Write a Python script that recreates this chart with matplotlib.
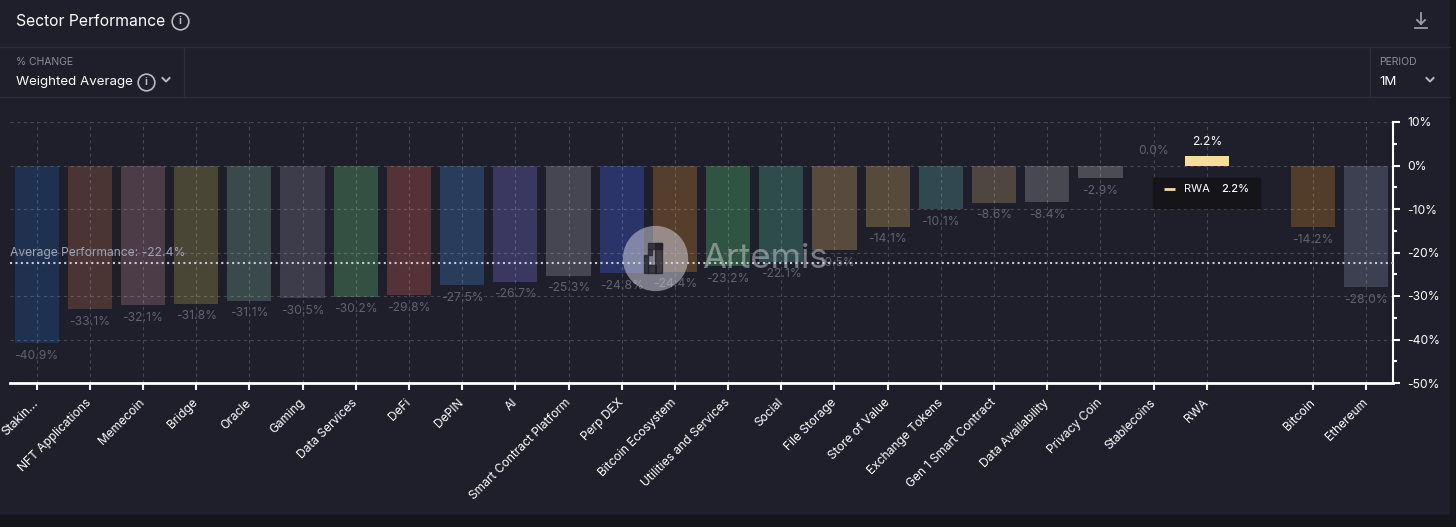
import matplotlib
matplotlib.use("Agg")
import matplotlib.pyplot as plt
from matplotlib.lines import Line2D
from matplotlib.patches import Rectangle
import numpy as np

# ---------------- data ----------------
sectors = ["Stakin...", "NFT Applications", "Memecoin", "Bridge", "Oracle", "Gaming",
           "Data Services", "DeFi", "DePIN", "AI", "Smart Contract Platform", "Perp DEX",
           "Bitcoin Ecosystem", "Utilities and Services", "Social", "File Storage",
           "Store of Value", "Exchange Tokens", "Gen 1 Smart Contract", "Data Availability",
           "Privacy Coin", "Stablecoins", "RWA"]
sector_values = [-40.9, -33.1, -32.1, -31.8, -31.1, -30.5, -30.2, -29.8, -27.5, -26.7,
                 -25.3, -24.8, -24.4, -23.2, -22.1, -19.5, -14.1, -10.1, -8.6, -8.4,
                 -2.9, 0.0, 2.2]
benchmarks = ["Bitcoin", "Ethereum"]
benchmark_values = [-14.2, -28.0]
average_performance = -22.4
highlighted = "RWA"
y_ticks = [10, 0, -10, -20, -30, -40, -50]

sector_colors = ["#1f3150", "#4a3434", "#4c3c48", "#4a4636", "#3a4a4a", "#3c3c4a",
                 "#345042", "#543238", "#2a3c5c", "#3a3860", "#464652", "#2a3468",
                 "#563e2c", "#305442", "#2e4c4c", "#584a3c", "#564a3a", "#324850",
                 "#504640", "#484850", "#4c4c54", "#4c4c54", "#f8dc9a"]
benchmark_colors = ["#523c2a", "#3c4050"]

# ---------------- layout ----------------
W, H = 1456, 527
BG = "#1e1f2a"
fig = plt.figure(figsize=(W / 100, H / 100), dpi=100, facecolor=BG)
plt.rcParams['font.family'] = ['Inter', 'DejaVu Sans']


def px(x, y):
    return x / W, 1 - y / H


# darker outer strips
fig.add_artist(Rectangle(px(0, 527), 1, 12 / H, transform=fig.transFigure, color="#15161c", zorder=0))
fig.add_artist(Rectangle(px(1450, 527), 6 / W, 1, transform=fig.transFigure, color="#15161c", zorder=0))

# header separators
sep = "#2c2e3a"
for yy in (47, 97):
    fig.add_artist(Line2D([0, 1450 / W], [1 - yy / H] * 2, transform=fig.transFigure, color=sep, lw=1))
for xx in (184, 1370):
    fig.add_artist(Line2D([xx / W] * 2, [1 - 47 / H, 1 - 97 / H], transform=fig.transFigure, color=sep, lw=1))

# header text
fig.text(*px(16, 21), "Sector Performance", color="white", fontsize=11.3, va="center", ha="left")
fig.text(*px(16, 62), "% CHANGE", color="#8a8c99", fontsize=7.5, va="center", ha="left")
fig.text(*px(16, 82), "Weighted Average", color="white", fontsize=9.6, va="center", ha="left")
fig.text(*px(1379, 62), "PERIOD", color="#8a8c99", fontsize=7.5, va="center", ha="left")
fig.text(*px(1379, 82), "1M", color="white", fontsize=9.6, va="center", ha="left")


def info_icon(x, y):
    fig.add_artist(Line2D([x / W], [1 - y / H], transform=fig.transFigure, marker="o", markersize=12,
                          mfc="none", mec="#b8bac4", mew=1.2))
    fig.text(x / W, 1 - y / H, "i", color="#b8bac4", fontsize=7.5, ha="center", va="center", fontweight="bold")


def chevron(x, y, color="#b8bac4"):
    xs = [(x - 3.5) / W, x / W, (x + 3.5) / W]
    ys = [1 - (y - 2) / H, 1 - (y + 1.5) / H, 1 - (y - 2) / H]
    fig.add_artist(Line2D(xs, ys, transform=fig.transFigure, color=color, lw=1.4))


info_icon(180, 21)
info_icon(146, 82)
chevron(166, 80)
chevron(1430, 80)
# download icon
fig.add_artist(Line2D([1421 / W] * 2, [1 - 13 / H, 1 - 24 / H], transform=fig.transFigure, color="#9a9ca8", lw=1.3))
fig.add_artist(Line2D([1417 / W, 1421 / W, 1425 / W], [1 - 20 / H, 1 - 24 / H, 1 - 20 / H],
                      transform=fig.transFigure, color="#9a9ca8", lw=1.3))
fig.add_artist(Line2D([1415 / W, 1427 / W], [1 - 28 / H] * 2, transform=fig.transFigure, color="#9a9ca8", lw=1.3))

# ---------------- axes ----------------
ax = fig.add_axes([10 / W, 1 - 383 / H, 1383 / W, 261 / H])
ax.set_facecolor(BG)

n_s = len(sectors)
sector_pos = np.arange(n_s)
bench_pos = np.arange(len(benchmarks)) + n_s + 1
positions = list(sector_pos) + list(bench_pos)
labels = sectors + benchmarks
values = sector_values + benchmark_values
colors = sector_colors + benchmark_colors

ax.set_xlim(-0.5, bench_pos[-1] + 0.5)
ax.set_ylim(min(y_ticks), max(y_ticks))

ax.bar(positions, values, width=0.83, color=colors, zorder=2)

# grid on top, translucent
grid_c = (1, 1, 1, 0.18)
for yv in y_ticks[:-1]:
    ax.axhline(yv, color=grid_c, lw=0.8, ls=(0, (3, 3)), zorder=3)
for p in positions:
    ax.axvline(p, color=grid_c, lw=0.8, ls=(0, (3, 3)), zorder=3)

# value labels
for p, v, lab in zip(positions, values, labels):
    if v < 0:
        ax.annotate(f"{v:.1f}%", (p, v), xytext=(0, -9), textcoords="offset points",
                    ha="center", va="center", color="#60626e", fontsize=8.7, zorder=4)
    else:
        c = "white" if lab == highlighted else "#60626e"
        ax.annotate(f"{v:.1f}%", (p, v), xytext=(0, 6), textcoords="offset points",
                    ha="center", va="bottom", color=c, fontsize=8.7, zorder=4)

# average line
ax.axhline(average_performance, color="#c8cad6", lw=1.5, ls=(0, (1, 1.6)), zorder=4)
ax.annotate(f"Average Performance: {average_performance}%", (0, average_performance),
            xycoords=("axes fraction", "data"), xytext=(0, 3), textcoords="offset points",
            ha="left", va="bottom", color="#9fa3b5", fontsize=8.7, zorder=5)

# spines / ticks
for s in ("top", "left"):
    ax.spines[s].set_visible(False)
ax.spines["bottom"].set_color("white")
ax.spines["bottom"].set_linewidth(2)
ax.spines["right"].set_color("white")
ax.spines["right"].set_linewidth(1.5)

ax.yaxis.tick_right()
ax.set_yticks(y_ticks)
ax.set_yticklabels([f"{t}%" for t in y_ticks])
ax.set_yticks(np.arange(-45, 10, 10), minor=True)
ax.tick_params(axis="y", which="major", colors="white", length=5, width=1.5, labelsize=8.7, pad=5)
ax.tick_params(axis="y", which="minor", colors="white", length=3, width=1.5)

ax.set_xticks(positions)
ax.set_xticklabels(labels, rotation=45, ha="right", va="center", rotation_mode="anchor")
ax.tick_params(axis="x", colors="white", length=5, width=1.5, labelsize=8.7, pad=8)

# tooltip for highlighted bar
hi = labels.index(highlighted)
hx = positions[hi]
ax.add_patch(Rectangle((hx - 1.02, -9.7), 2.02, 6.9, color="#141419", zorder=6))
ax.plot([hx - 0.8, hx - 0.6], [-5.3, -5.3], color=colors[hi], lw=2, zorder=7, solid_capstyle="butt")
ax.text(hx - 0.43, -5.3, highlighted, color="white", fontsize=8, ha="left", va="center", zorder=7)
ax.text(hx + 0.28, -5.3, f"{values[hi]}%", color="white", fontsize=8, ha="left", va="center",
        fontweight="medium", zorder=7)

# watermark
wm = (655, 258)
fig.add_artist(Line2D([wm[0] / W], [1 - wm[1] / H], transform=fig.transFigure, marker="o",
                      markersize=47, mfc=(0.85, 0.85, 0.9, 0.5), mec="none", zorder=8))
for (bx, by, bw, bh) in [(648, 243, 14, 6), (655, 243, 7, 30), (648, 249, 4, 6), (644, 255, 4, 18), (648, 265, 8, 8)]:
    fig.add_artist(Rectangle(((bx) / W, 1 - (by + bh) / H), bw / W, bh / H, transform=fig.transFigure,
                             color=(0.12, 0.12, 0.16, 0.75), zorder=9))
fig.text(*px(702, 259), "Artemis", color=(0.82, 0.82, 0.86, 0.5), fontsize=25, ha="left", va="center", zorder=9)

fig.savefig("out.png", dpi=100, facecolor=BG)
